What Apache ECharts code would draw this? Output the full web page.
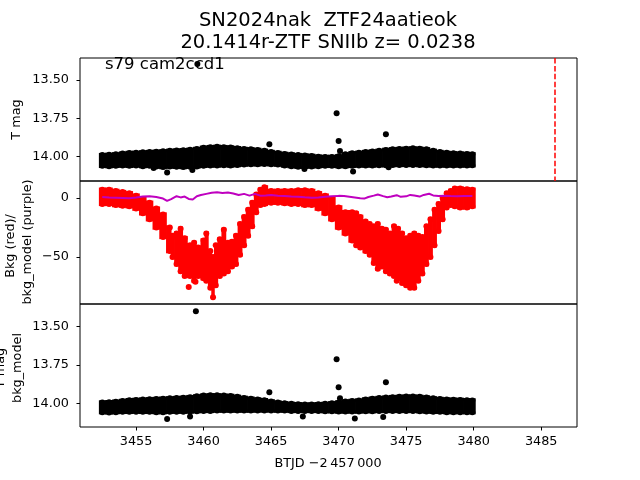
<!DOCTYPE html>
<html><head><meta charset="utf-8">
<script src="https://cdn.jsdelivr.net/npm/echarts@6.0.0/dist/echarts.min.js"></script>
<style>html,body{margin:0;padding:0;background:#fff}#c{width:640px;height:480px}</style>
</head><body><div id="c"></div>
<script>
// ---- text ----
const titleLines = ['SN2024nak  ZTF24aatieok', '20.1414r-ZTF SNIIb z= 0.0238'];
const sectorText = 's79 cam2ccd1';
const xLabel = 'BTJD \u22122\u2009457\u2009000';

// ---- ticks ----
const xTicks = [3455, 3460, 3465, 3470, 3475, 3480, 3485];
const magTicks = [13.5, 13.75, 14.0];
const bkgTicks = [0, -50];
const peakLine = [3486.0];

// ---- panel 1: T mag band (dot centres of upper / lower envelope) ----
const magTime = [3452.5,3453.0,3453.5,3454.0,3454.5,3455.0,3455.5,3456.0,3456.5,3457.0,3457.5,3458.0,3458.5,3459.0,3459.5,3460.0,3460.5,3461.0,3461.5,3462.0,3462.5,3463.0,3463.5,3464.0,3464.5,3465.0,3465.5,3466.0,3466.5,3467.0,3467.5,3468.0,3468.5,3469.0,3469.5,3470.0,3470.5,3471.0,3471.5,3472.0,3472.5,3473.0,3473.5,3474.0,3474.5,3475.0,3475.5,3476.0,3476.5,3477.0,3477.5,3478.0,3478.5,3479.0,3479.5,3479.9];
const magTop = [13.990,13.988,13.985,13.980,13.976,13.975,13.972,13.970,13.968,13.965,13.962,13.960,13.958,13.955,13.950,13.942,13.938,13.936,13.938,13.940,13.945,13.950,13.952,13.956,13.962,13.970,13.976,13.982,13.986,13.990,13.992,13.995,14.000,14.002,14.002,13.998,13.985,13.978,13.975,13.970,13.966,13.962,13.956,13.952,13.950,13.948,13.946,13.948,13.952,13.962,13.970,13.975,13.978,13.980,13.982,13.985];
const magBot = [14.060,14.062,14.060,14.058,14.060,14.058,14.062,14.060,14.065,14.068,14.065,14.066,14.068,14.066,14.064,14.060,14.058,14.058,14.056,14.058,14.055,14.052,14.050,14.050,14.048,14.050,14.052,14.058,14.062,14.066,14.066,14.064,14.062,14.060,14.060,14.062,14.062,14.060,14.058,14.058,14.058,14.056,14.056,14.055,14.054,14.054,14.054,14.055,14.056,14.058,14.058,14.058,14.058,14.058,14.058,14.056];
const magDotT = [3459.54,3464.87,3469.85,3470.00,3470.10,3473.50,3457.30,3459.17,3456.30,3467.47,3471.07,3473.70];
const magDotV = [13.395,13.919,13.717,13.898,13.963,13.854,14.103,14.087,14.074,14.080,14.097,14.070];

// ---- panel 2: background (red band) and bkg model (purple) ----
const bkgTime = [3452.5,3453.0,3453.5,3454.0,3454.5,3455.0,3455.5,3456.0,3456.5,3457.0,3457.5,3457.7,3458.0,3458.3,3458.6,3459.0,3459.3,3459.6,3460.0,3460.2,3460.5,3460.7,3460.9,3461.2,3461.5,3461.8,3462.1,3462.4,3462.7,3463.0,3463.3,3463.6,3463.9,3464.2,3464.5,3465.0,3465.5,3466.0,3466.5,3467.0,3467.5,3468.0,3468.5,3469.0,3469.5,3470.0,3470.5,3471.0,3471.3,3471.6,3472.0,3472.3,3472.6,3472.9,3473.2,3473.5,3473.8,3474.1,3474.4,3474.7,3475.0,3475.3,3475.6,3475.9,3476.2,3476.5,3476.8,3477.1,3477.4,3477.7,3478.0,3478.3,3478.6,3479.0,3479.5,3479.9];
const bkgTop = [7,7,6,5,4,2,-1,-4,-9,-14,-25,-32,-30,-26,-34,-40,-38,-42,-36,-30,-45,-50,-40,-35,-27,-38,-37,-32,-22,-16,-10,-4,3,7,9,6,6,6,6,6.5,6.5,6,4,2,-1,-8,-12,-12,-13,-16,-20,-22,-24,-22,-26,-27,-30,-24,-26,-30,-34,-32,-30,-32,-33,-24,-18,-10,-5,0,4,6,8,8,7.5,7];
const bkgBot = [-5,-5,-6,-6.5,-7,-9,-13,-18,-25,-33,-45,-50,-56,-62,-66,-66,-70,-66,-68,-70,-76,-84,-74,-66,-64,-62,-58,-56,-48,-40,-32,-24,-12,-6,-5,-4,-4,-4.5,-5,-5,-6,-6,-9,-13,-18,-25,-30,-36,-40,-42,-45,-48,-55,-60,-58,-62,-64,-66,-68,-72,-74,-76,-76,-70,-64,-56,-50,-40,-28,-18,-8,-6,-7,-8,-8,-7];
const bkgDotT = [3458.9,3459.4,3474.3,3475.1];
const bkgDotV = [-75.4,-71,-70,-35];
const modelTime = [3452.5,3453.0,3453.5,3454.0,3454.5,3455.0,3455.5,3456.0,3456.5,3457.0,3457.3,3457.6,3458.0,3458.3,3458.6,3458.9,3459.2,3459.5,3459.8,3460.2,3460.6,3461.0,3461.4,3461.8,3462.2,3462.6,3463.0,3463.4,3463.8,3464.2,3464.6,3465.0,3465.5,3466.0,3466.5,3467.0,3467.5,3468.0,3468.5,3469.0,3469.5,3470.0,3470.4,3470.8,3471.2,3471.6,3471.9,3472.2,3472.6,3472.9,3473.3,3473.6,3473.9,3474.3,3474.6,3475.0,3475.3,3475.6,3476.0,3476.3,3476.7,3477.0,3477.4,3477.8,3478.3,3478.8,3479.3,3479.9];
const modelVal = [0.8,0.5,0.3,0.0,-0.3,0.4,1.2,1.5,0.8,-0.5,-2.5,-1.0,1.5,0.5,1.2,-0.8,-1.2,1.5,2.5,3.5,4.5,4.8,4.2,4.6,3.8,2.5,3.5,2.0,3.5,2.0,2.2,2.5,2.0,1.6,1.2,1.0,0.6,0.3,0.4,1.0,1.4,1.8,1.6,1.0,0.4,-0.2,-0.5,0.8,2.0,3.0,1.6,0.6,1.2,2.4,1.0,1.4,2.6,2.2,1.2,2.6,3.6,2.2,1.6,1.8,1.6,1.5,1.7,1.6];

// ---- panel 3: T mag - bkg_model band ----
const corTime = magTime;
const corTop = [13.995,13.993,13.990,13.985,13.980,13.978,13.976,13.974,13.972,13.970,13.968,13.966,13.964,13.960,13.955,13.950,13.948,13.948,13.950,13.952,13.958,13.965,13.970,13.975,13.980,13.988,13.995,14.000,14.004,14.006,14.008,14.008,14.006,14.004,14.000,13.995,13.988,13.985,13.982,13.975,13.970,13.966,13.963,13.960,13.958,13.956,13.956,13.958,13.962,13.968,13.972,13.975,13.977,13.978,13.980,13.982];
const corBot = [14.058,14.060,14.058,14.056,14.056,14.055,14.056,14.056,14.058,14.058,14.056,14.055,14.055,14.054,14.052,14.050,14.050,14.048,14.048,14.048,14.048,14.048,14.048,14.047,14.047,14.047,14.048,14.048,14.050,14.050,14.050,14.050,14.050,14.052,14.052,14.054,14.054,14.054,14.054,14.052,14.052,14.050,14.050,14.050,14.050,14.050,14.050,14.052,14.054,14.056,14.056,14.058,14.058,14.058,14.058,14.058];
const corDotT = [3459.43,3464.87,3469.85,3470.00,3470.10,3473.50,3457.30,3459.00,3467.35,3471.20,3473.30];
const corDotV = [13.400,13.928,13.713,13.896,13.967,13.863,14.102,14.087,14.087,14.100,14.090];

const FONT = 'DejaVu Sans';
const chart = echarts.init(document.getElementById('c'), null, {renderer: 'canvas'});

// band body: one rect per sample (between the envelope values), edges: dots
function bandSeries(T, TOP, BOT, color, xi, yi) {
  const n = T.length;
  return [
    {type: 'custom', xAxisIndex: xi, yAxisIndex: yi, silent: true, z: 2,
      data: T.map((t, i) => [t, TOP[i], BOT[i]]),
      encode: {x: 0, y: [1, 2]},
      renderItem: function (params, api) {
        const i = params.dataIndex;
        const a = api.coord([T[i], TOP[i]]);
        const ax = a[0], ay = a[1];
        const b = api.coord([T[i], BOT[i]]);
        const by = b[1];
        let x0 = ax - 3, x1 = ax + 3;
        if (i > 0) { const p = api.coord([T[i - 1], TOP[i - 1]]); x0 = (p[0] + ax) / 2; }
        if (i < n - 1) { const q = api.coord([T[i + 1], TOP[i + 1]]); x1 = (q[0] + ax) / 2; }
        const y0 = Math.min(ay, by) - 2.2, y1 = Math.max(ay, by) + 2.2;
        return {type: 'rect',
          shape: {x: x0 - 0.4, y: y0, width: x1 - x0 + 0.8, height: y1 - y0},
          style: {fill: color}};
      }},
    {type: 'scatter', xAxisIndex: xi, yAxisIndex: yi, symbolSize: 6, silent: true, z: 2,
      itemStyle: {color: color, opacity: 1},
      data: T.map((t, i) => [t, TOP[i]]).concat(T.map((t, i) => [t, BOT[i]]))}
  ];
}
function dots(T, V, color, xi, yi) {
  return {type: 'scatter', xAxisIndex: xi, yAxisIndex: yi, symbolSize: 6, silent: true,
    itemStyle: {color: color, opacity: 1}, data: T.map((t, i) => [t, V[i]]), z: 3};
}

const X_MIN = 3450.85, X_MAX = 3487.65;
const grids = [
  {left: 80, right: 63, top: 58, height: 123},
  {left: 80, right: 63, top: 181, height: 123},
  {left: 80, right: 63, top: 304, height: 123}
].map(g => Object.assign({show: true, borderColor: '#000', borderWidth: 1, containLabel: false}, g));

function xAxis(i, showIt) {
  return {type: 'value', gridIndex: i, min: X_MIN, max: X_MAX, splitLine: {show: false},
    axisLine: {show: false},
    axisTick: {show: showIt, inside: false, length: 3.5, lineStyle: {color: '#000', width: 1}, customValues: xTicks},
    axisLabel: {show: showIt, customValues: xTicks, margin: 8, color: '#000', fontFamily: FONT, fontSize: 12.8,
      formatter: v => String(v)}};
}
function yAxis(i, mn, mx, inv, ticks, fmt) {
  return {type: 'value', gridIndex: i, min: mn, max: mx, inverse: inv, splitLine: {show: false},
    axisLine: {show: false},
    axisTick: {show: true, inside: false, length: 3.5, lineStyle: {color: '#000', width: 1}, customValues: ticks},
    axisLabel: {customValues: ticks, margin: 11, color: '#000', fontFamily: FONT, fontSize: 12.8, formatter: fmt}};
}
const magFmt = v => v.toFixed(2);
const bkgFmt = v => v < 0 ? '\u2212' + Math.abs(v) : String(v);

function txt(s, x, y, size, rot, align) {
  return {type: 'text', x: x, y: y, rotation: rot || 0, z: 100,
    style: {text: s, fill: '#000', font: size + 'px "' + FONT + '"', align: align || 'center', verticalAlign: 'middle'}};
}

const series = [].concat(
  bandSeries(magTime, magTop, magBot, '#000', 0, 0),
  [dots(magDotT, magDotV, '#000', 0, 0),
   {type: 'scatter', xAxisIndex: 0, yAxisIndex: 0, data: [], silent: true,
    markLine: {silent: true, symbol: 'none', label: {show: false},
      lineStyle: {color: '#ff0000', width: 1.5, type: [5.5, 2.4]},
      data: peakLine.map(x => ({xAxis: x}))}}],
  bandSeries(bkgTime, bkgTop, bkgBot, '#ff0000', 1, 1),
  [dots(bkgDotT, bkgDotV, '#ff0000', 1, 1),
   {type: 'line', xAxisIndex: 1, yAxisIndex: 1, showSymbol: false, silent: true, z: 4,
    lineStyle: {color: '#bf00bf', width: 2}, data: modelTime.map((t, i) => [t, modelVal[i]])}],
  bandSeries(corTime, corTop, corBot, '#000', 2, 2),
  [dots(corDotT, corDotV, '#000', 2, 2)]
);

chart.setOption({
  animation: false,
  backgroundColor: '#fff',
  grid: grids,
  xAxis: [xAxis(0, false), xAxis(1, false), xAxis(2, true)],
  yAxis: [
    yAxis(0, 13.356, 14.159, true, magTicks, magFmt),
    yAxis(1, -89.8, 14.4, false, bkgTicks, bkgFmt),
    yAxis(2, 13.352, 14.155, true, magTicks, magFmt)
  ],
  series: series,
  graphic: [
    txt(titleLines[0], 328, 21, 19.5),
    txt(titleLines[1], 328, 43, 19.5),
    txt(sectorText, 105, 65, 16.5, 0, 'left'),
    txt('T mag', 16.5, 119.5, 12.8, Math.PI / 2),
    txt('Bkg (red)/', 11, 246, 12.8, Math.PI / 2),
    txt('bkg_model (purple)', 27.5, 242, 12.8, Math.PI / 2),
    txt('T mag', 1, 368, 12.8, Math.PI / 2),
    txt('bkg_model', 17.5, 368, 12.8, Math.PI / 2),
    txt(xLabel, 328, 463.5, 12.8)
  ]
});
</script></body></html>
